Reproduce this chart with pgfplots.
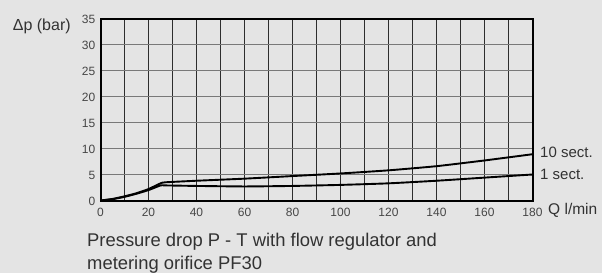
\documentclass[border=0pt]{standalone}
\usepackage{fontspec}
\setmainfont{Liberation Sans}
\usepackage{pgfplots}
\pgfplotsset{compat=1.18}
\definecolor{bg}{RGB}{228,228,228}
\definecolor{txt}{RGB}{50,50,50}
\definecolor{tick}{RGB}{70,70,70}
\definecolor{vgrid}{RGB}{45,45,45}
\definecolor{hgrid}{RGB}{120,120,120}
\begin{document}
\begin{tikzpicture}[x=1pt,y=1pt]
\fill[bg] (0,0) rectangle (602,273);
\begin{axis}[
  at={(100.5pt,72.5pt)}, anchor=south west,
  scale only axis, width=432pt, height=182pt,
  xmin=0, xmax=180, ymin=0, ymax=35,
  xtick={0,10,...,180},
  xticklabels={0,,20,,40,,60,,80,,100,,120,,140,,160,,180},
  ytick={0,5,...,35},
  major tick length=0pt,
  xmajorgrids, ymajorgrids,
  major x grid style={vgrid, line width=1pt},
  major y grid style={hgrid, line width=1pt},
  axis line style={black, line width=2pt},
  /pgf/number format/assume math mode=true,
  ticklabel style={font=\fontsize{12}{12}\selectfont, text=tick, inner sep=0pt},
  xticklabel style={anchor=base, yshift=-16pt},
  yticklabel style={anchor=east, xshift=-5pt, yshift=-1pt},
  clip=false,
]
\addplot[black, line width=1.9pt, smooth, tension=0.3] coordinates {
 (0,0) (5,0.3) (10,0.8) (15,1.4) (20,2.2) (25,3.3) (27,3.5) (40,3.8) (60,4.2) (80,4.7) (100,5.2) (120,5.8) (140,6.6) (160,7.7) (180,8.9)
};
\addplot[black, line width=1.9pt, smooth, tension=0.3] coordinates {
 (0,0) (5,0.25) (10,0.7) (15,1.3) (20,2.0) (25,2.9) (27,2.9) (40,2.8) (60,2.7) (80,2.8) (100,3.0) (120,3.3) (140,3.8) (160,4.4) (180,5.0)
};
\end{axis}
\node[anchor=west, inner sep=0pt, font=\fontsize{15}{15}\selectfont, text=txt] at (540,121) {10 sect.};
\node[anchor=west, inner sep=0pt, font=\fontsize{15}{15}\selectfont, text=txt] at (540,99) {1 sect.};
\node[anchor=west, inner sep=0pt, font=\fontsize{15.5}{15.5}\selectfont, text=txt] at (548,63) {Q l/min};
\node[anchor=west, inner sep=0pt, font=\fontsize{16}{16}\selectfont, text=txt] at (12.7,247) {Δp (bar)};
\node[anchor=base west, inner sep=0pt, font=\fontsize{18.4}{18.4}\selectfont, text=txt] at (87,27) {Pressure drop P - T with flow regulator and};
\node[anchor=base west, inner sep=0pt, font=\fontsize{18.4}{18.4}\selectfont, text=txt] at (87,4) {metering orifice PF30};
\end{tikzpicture}
\end{document}
